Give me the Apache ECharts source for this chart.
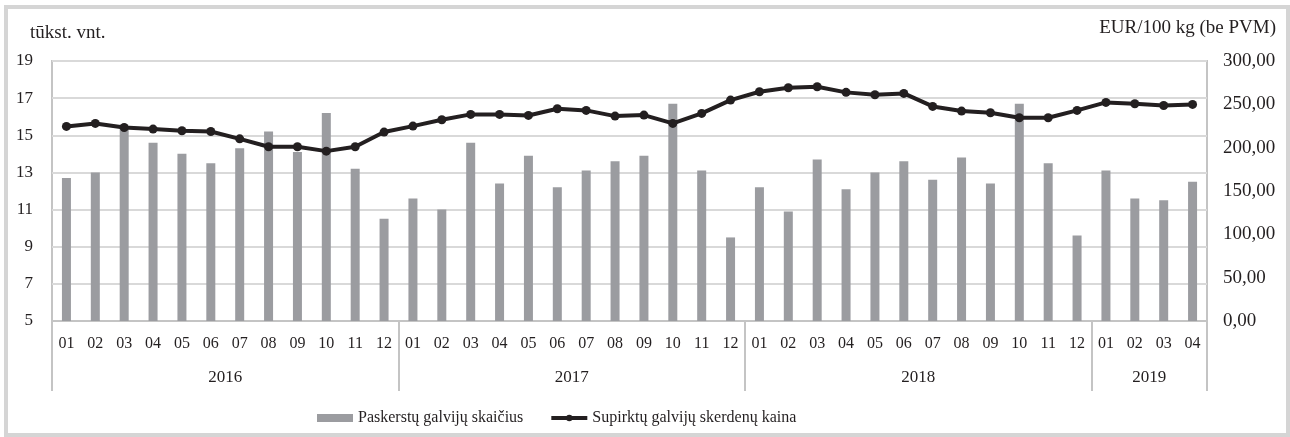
<!DOCTYPE html>
<html>
<head>
<meta charset="utf-8">
<script src="https://cdn.jsdelivr.net/npm/echarts@6/dist/echarts.min.js"></script>
<style>
  html, body { margin: 0; padding: 0; background: #fff; }
  #frame { position: absolute; left: 4px; top: 5px; width: 1278px; height: 424px; border: 4px solid #d5d5d5; }
  #chart { position: absolute; left: 0; top: 0; width: 1290px; height: 437px; }
</style>
</head>
<body>
<div id="frame"></div>
<div id="chart"></div>
<script>
// mėnesiai ir metai
const months = [
  '01','02','03','04','05','06','07','08','09','10','11','12',
  '01','02','03','04','05','06','07','08','09','10','11','12',
  '01','02','03','04','05','06','07','08','09','10','11','12',
  '01','02','03','04'
];
const years = { 6: '2016', 18: '2017', 30: '2018', 38: '2019' };

// paskerstų galvijų skaičius, tūkst. vnt.
const slaughtered = [
  12.7, 13.0, 15.4, 14.6, 14.0, 13.5, 14.3, 15.2, 14.1, 16.2, 13.2, 10.5,
  11.6, 11.0, 14.6, 12.4, 13.9, 12.2, 13.1, 13.6, 13.9, 16.7, 13.1, 9.5,
  12.2, 10.9, 13.7, 12.1, 13.0, 13.6, 12.6, 13.8, 12.4, 16.7, 13.5, 9.6,
  13.1, 11.6, 11.5, 12.5
];

// supirktų galvijų skerdenų kaina, EUR/100 kg
const price = [
  224.5, 228.0, 223.3, 221.4, 219.5, 218.7, 210.2, 201.0, 201.0, 196.0, 201.0, 218.0,
  224.9, 232.2, 238.4, 238.4, 237.2, 244.9, 243.0, 236.4, 237.6, 228.0, 239.5, 254.9,
  264.5, 269.2, 270.3, 263.8, 261.0, 262.6, 247.6, 242.2, 240.3, 234.5, 234.5, 243.0,
  252.2, 250.7, 248.7, 249.9
];

const txt = '#231f20';
const font = 'Liberation Serif';

let myChart = echarts.init(document.getElementById('chart'));
myChart.setOption({
  animation: false,
  textStyle: { fontFamily: font, color: txt },
  grid: {
    left: 52, right: 83, top: 61, bottom: 116,
    show: true, borderColor: '#c4c4c4', borderWidth: 2, backgroundColor: 'transparent'
  },
  graphic: [
    { type: 'text', left: 30, top: 24, style: { text: 'tūkst. vnt.', font: '19px ' + font, fill: txt } },
    { type: 'text', right: 14, top: 19, style: { text: 'EUR/100 kg (be PVM)', font: '19px ' + font, fill: txt } }
  ],
  legend: {
    left: 312, top: 405,
    itemGap: 26, itemWidth: 36, itemHeight: 8,
    textStyle: { fontFamily: font, fontSize: 16, color: txt },
    data: [
      { name: 'Paskerstų galvijų skaičius', icon: 'rect' },
      { name: 'Supirktų galvijų skerdenų kaina', lineStyle: { width: 4 } }
    ]
  },
  xAxis: [
    {
      type: 'category', data: months,
      axisLine: { lineStyle: { color: '#c4c4c4', width: 2 } },
      axisTick: { show: false },
      axisLabel: { interval: 0, margin: 15, fontSize: 16, color: txt, fontFamily: font }
    },
    {
      // metų skirtukai
      type: 'value', min: 0, max: 40, interval: 12, position: 'bottom', gridIndex: 0,
      axisLine: { show: false },
      axisTick: { show: true, length: 70, lineStyle: { color: '#c4c4c4', width: 2 } },
      axisLabel: { show: false },
      splitLine: { show: false }
    },
    {
      type: 'value', min: 0, max: 40, interval: 2, position: 'bottom', gridIndex: 0,
      axisLine: { show: false }, axisTick: { show: false }, splitLine: { show: false },
      axisLabel: {
        margin: 48, fontSize: 17, color: txt, fontFamily: font,
        formatter: v => years[v] || ''
      }
    }
  ],
  yAxis: [
    {
      type: 'value', min: 5, max: 19, interval: 2,
      axisLine: { show: false }, axisTick: { show: false },
      axisLabel: { margin: 19, fontSize: 17, color: txt, fontFamily: font },
      splitLine: { lineStyle: { color: '#d9d9d9', width: 2 } }
    },
    {
      type: 'value', min: 0, max: 300, interval: 50,
      axisLine: { show: false }, axisTick: { show: false },
      axisLabel: {
        margin: 16, fontSize: 19, color: txt, fontFamily: font,
        formatter: v => v.toFixed(2).replace('.', ',')
      },
      splitLine: { show: false }
    }
  ],
  series: [
    {
      name: 'Paskerstų galvijų skaičius', type: 'bar',
      xAxisIndex: 0, yAxisIndex: 0,
      data: slaughtered, barWidth: 9,
      itemStyle: { color: '#9b9ca0' }
    },
    {
      name: 'Supirktų galvijų skerdenų kaina', type: 'line',
      xAxisIndex: 0, yAxisIndex: 1,
      data: price, symbol: 'circle', symbolSize: 9,
      lineStyle: { color: txt, width: 4 },
      itemStyle: { color: txt }
    }
  ]
});
</script>
</body>
</html>
